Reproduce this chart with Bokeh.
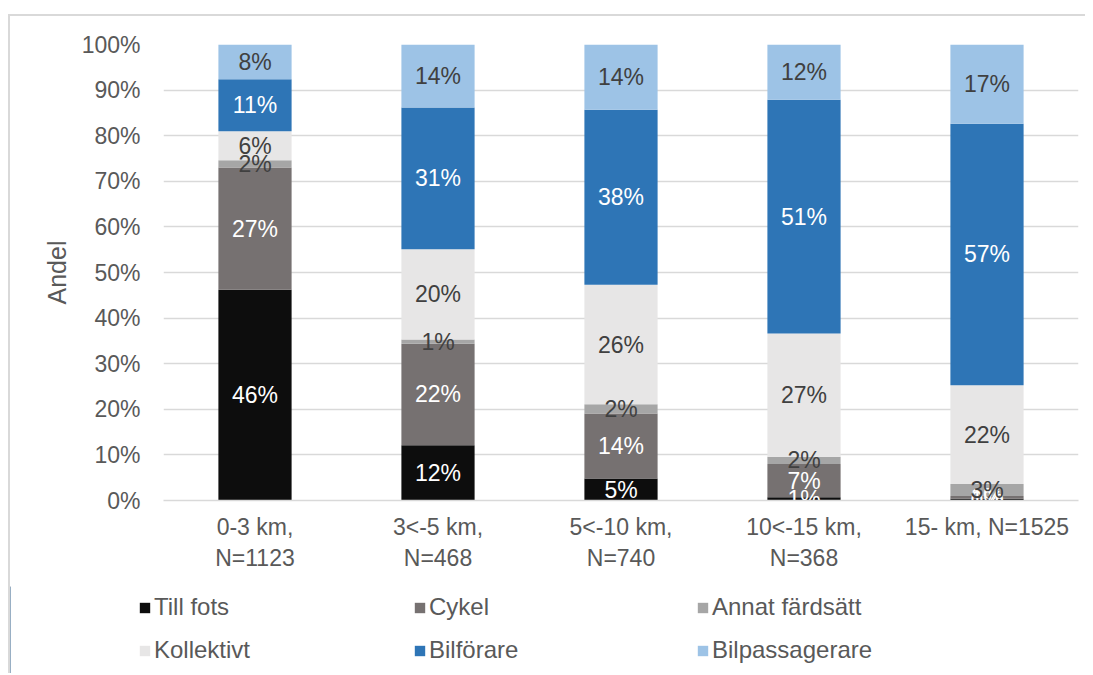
from bokeh.plotting import figure
from bokeh.layouts import column
from bokeh.models import (ColumnDataSource, FixedTicker, PrintfTickFormatter,
                          Legend, LegendItem, Range1d)
from bokeh.core.properties import value
from bokeh.embed import file_html
from bokeh.resources import INLINE

# ---- data ----
categories = ["0-3 km,\nN=1123", "3<-5 km,\nN=468", "5<-10 km,\nN=740",
              "10<-15 km,\nN=368", "15- km, N=1525"]
modes = ["Till fots", "Cykel", "Annat färdsätt", "Kollektivt", "Bilförare", "Bilpassagerare"]
till_fots = [46.2, 12.1, 4.8, 0.7, 0.4]
cykel = [26.8, 22.3, 14.3, 7.3, 0.6]
annat = [1.6, 0.9, 2.0, 1.6, 2.6]
kollektivt = [6.4, 19.8, 26.2, 27.0, 21.7]
bilforare = [11.4, 31.1, 38.4, 51.3, 57.3]
bilpassagerare = [7.6, 13.8, 14.3, 12.1, 17.4]
y_ticks = [0, 10, 20, 30, 40, 50, 60, 70, 80, 90, 100]

series = [till_fots, cykel, annat, kollektivt, bilforare, bilpassagerare]
colors = ["#0d0d0d", "#767171", "#a6a6a6", "#e7e6e6", "#2e75b6", "#9dc3e6"]
label_colors = ["#ffffff", "#ffffff", "#404040", "#404040", "#ffffff", "#404040"]

FONT = "Liberation Sans"
TXT = "#595959"
FS = "23px"

xs = list(range(len(categories)))
data = {"x": xs}
for m, s in zip(modes, series):
    data[m] = s
source = ColumnDataSource(data)

# ---- main chart ----
p = figure(width=1075, height=570, x_range=Range1d(-0.5, 4.5), y_range=Range1d(0, 100),
           output_backend="svg", toolbar_location=None, frame_align=False,
           min_border_left=153, min_border_right=7, min_border_top=28, min_border_bottom=86)
p.outline_line_color = None
p.background_fill_color = "white"
p.border_fill_color = "white"

renderers = p.vbar_stack(modes, x="x", width=0.4, color=colors, source=source, line_width=0)

# data labels
bottom = [0.0] * len(xs)
for s, lc in zip(series, label_colors):
    centers = [b + v / 2 for b, v in zip(bottom, s)]
    texts = [f"{v:.0f}%" for v in s]
    p.text(x=xs, y=centers, text=texts, text_color=lc, text_font=value(FONT),
           text_font_size=FS, text_align="center", text_baseline="middle")
    bottom = [b + v for b, v in zip(bottom, s)]

# axes
p.yaxis.ticker = FixedTicker(ticks=y_ticks)
p.yaxis.formatter = PrintfTickFormatter(format="%d%%")
p.yaxis.axis_line_color = None
p.yaxis.major_tick_line_color = None
p.yaxis.minor_tick_line_color = None
p.yaxis.major_tick_out = 0
p.yaxis.major_label_standoff = 23
p.yaxis.major_label_text_font = FONT
p.yaxis.major_label_text_font_size = FS
p.yaxis.major_label_text_color = TXT
p.yaxis.axis_label = "Andel"
p.yaxis.axis_label_text_font = FONT
p.yaxis.axis_label_text_font_size = "25px"
p.yaxis.axis_label_text_font_style = "normal"
p.yaxis.axis_label_text_color = TXT
p.yaxis.axis_label_standoff = 8

p.xaxis.ticker = FixedTicker(ticks=xs)
p.xaxis.major_label_overrides = {i: c for i, c in enumerate(categories)}
p.xaxis.axis_line_color = "#d9d9d9"
p.xaxis.axis_line_width = 1.5
p.xaxis.major_tick_line_color = None
p.xaxis.minor_tick_line_color = None
p.xaxis.major_tick_out = 0
p.xaxis.major_label_standoff = 13
p.xaxis.major_label_text_font = FONT
p.xaxis.major_label_text_font_size = FS
p.xaxis.major_label_text_color = TXT

p.xgrid.grid_line_color = None
p.ygrid.ticker = FixedTicker(ticks=y_ticks)
p.ygrid.grid_line_color = "#d9d9d9"
p.ygrid.grid_line_width = 1.5

# ---- legend strip (2 rows x 3 columns) ----
pl = figure(width=1075, height=87, x_range=Range1d(0, 1), y_range=Range1d(0, 1),
            output_backend="svg", toolbar_location=None, x_axis_type=None, y_axis_type=None,
            min_border=0, min_border_left=0, min_border_right=0, min_border_top=0,
            min_border_bottom=0, frame_align=False)
pl.outline_line_color = None
pl.xgrid.visible = False
pl.ygrid.visible = False
pl.background_fill_color = "white"
pl.border_fill_color = "white"

col_x = [128, 403, 686]
row_y = [51, 8]
for i, (m, c) in enumerate(zip(modes, colors)):
    # swatch renderer lies outside the visible range; only its legend entry shows
    r = pl.vbar(x=[-10], top=[1], width=0.4, color=c, line_width=0)
    row, col = divmod(i, 3)
    leg = Legend(items=[LegendItem(label=m, renderers=[r])],
                 location=(col_x[col], row_y[row]), orientation="horizontal",
                 padding=0, margin=0, spacing=0, glyph_width=13, glyph_height=13,
                 label_height=30, label_standoff=3, label_text_font=FONT,
                 label_text_font_size="24px", label_text_color=TXT,
                 border_line_alpha=0, background_fill_alpha=0)
    pl.add_layout(leg, "center")

layout = column(p, pl, spacing=0)
layout.styles = {"margin-top": "14px", "margin-left": "8px",
                 "border-top": "2px solid #d9d9d9", "border-left": "2px solid #d9d9d9"}

open("out.html", "w").write(file_html(layout, INLINE))
